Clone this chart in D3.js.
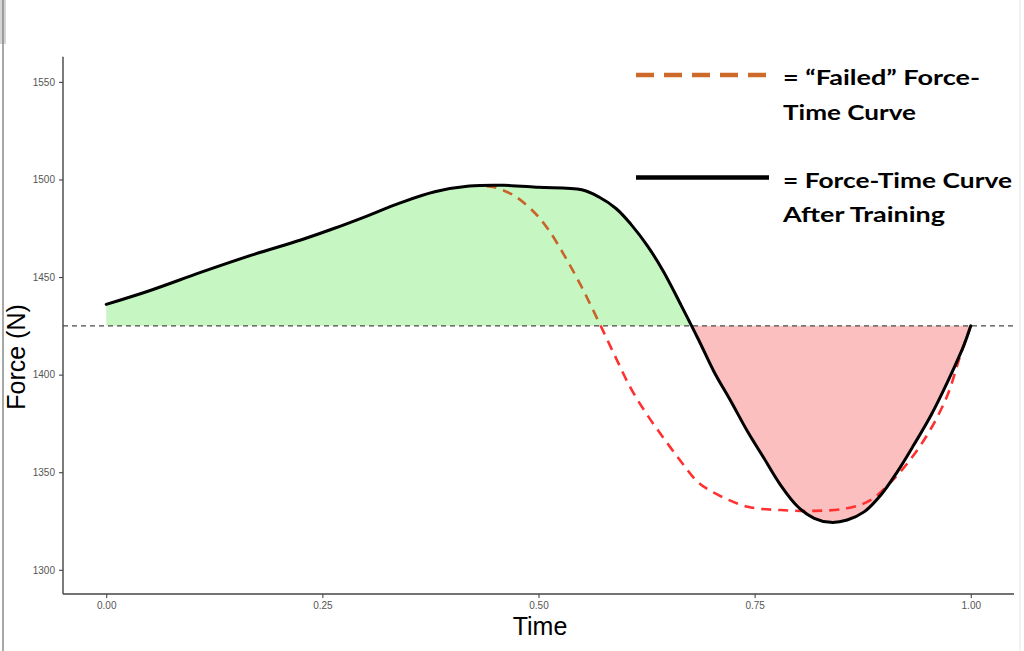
<!DOCTYPE html>
<html>
<head>
<meta charset="utf-8">
<script src="https://cdn.jsdelivr.net/npm/d3@7"></script>
<style>
  html, body { margin: 0; padding: 0; background: #fff; }
  svg { display: block; }
</style>
</head>
<body>
<svg id="chart" width="1024" height="651"></svg>
<script>
// ---------- data ----------
const trainedTime  = [0.00, 0.05, 0.11, 0.17, 0.225, 0.264, 0.30, 0.34, 0.38, 0.42, 0.46, 0.50, 0.55, 0.57, 0.59, 0.607, 0.626, 0.645, 0.665, 0.685, 0.703, 0.723, 0.742, 0.761, 0.78, 0.80, 0.819, 0.838, 0.857, 0.877, 0.896, 0.915, 0.934, 0.954, 0.973, 0.992, 1.00];
const trainedForce = [1436, 1443, 1452.5, 1461.5, 1469, 1475, 1481, 1488, 1493.7, 1496.6, 1497, 1496, 1494.7, 1491, 1485, 1477, 1466, 1452.5, 1435.5, 1418, 1401.5, 1386, 1370.7, 1357, 1343.4, 1332.3, 1326.4, 1324.3, 1325.5, 1329.8, 1338.3, 1350.2, 1363.9, 1379.2, 1396.2, 1415, 1425];

const failedTime  = [0.44, 0.449, 0.472, 0.495, 0.511, 0.530, 0.549, 0.568, 0.588, 0.607, 0.626, 0.645, 0.665, 0.684, 0.705, 0.742, 0.78, 0.819, 0.857, 0.884, 0.915, 0.934, 0.954, 0.973, 0.988, 1.00];
const failedForce = [1496.6, 1496, 1491.7, 1483.2, 1474.6, 1461, 1445.7, 1428.6, 1410, 1392.8, 1379.2, 1367.3, 1355.4, 1345.1, 1339, 1332.3, 1330.6, 1330.2, 1331.5, 1335.7, 1348.5, 1358.8, 1372.4, 1389.4, 1410, 1425];

const baselineForce = 1425;
const xTicks = [0, 0.25, 0.5, 0.75, 1.0];
const yTicks = [1300, 1350, 1400, 1450, 1500, 1550];
const xLabel = "Time";
const yLabel = "Force (N)";
const legendFailed = ["= \u201CFailed\u201D Force-", "Time Curve"];
const legendTrained = ["= Force-Time Curve", "After Training"];

// ---------- setup ----------
const svg = d3.select("#chart");
const x = d3.scaleLinear().domain([-0.05, 1.05]).range([63, 1014]);
const y = d3.scaleLinear().domain([1287.6, 1562.9]).range([594, 56.7]);

const trained = trainedTime.map((t, i) => ({t, f: trainedForce[i]}));
const failed = failedTime.map((t, i) => ({t, f: failedForce[i]}));

// screenshot edge decorations
svg.append("rect").attr("x", 0).attr("y", 0).attr("width", 6).attr("height", 44).attr("fill", "#d4d4d4");
svg.append("line").attr("x1", 3).attr("x2", 3).attr("y1", 0).attr("y2", 651).attr("stroke", "#8a8a8a").attr("stroke-width", 1.5);
svg.append("line").attr("x1", 1020).attr("x2", 1020).attr("y1", 0).attr("y2", 651).attr("stroke", "#e6e6e6").attr("stroke-width", 1);

const defs = svg.append("defs");
const yb = y(baselineForce);
defs.append("clipPath").attr("id", "above")
  .append("rect").attr("x", 0).attr("y", 0).attr("width", 1024).attr("height", yb);
defs.append("clipPath").attr("id", "below")
  .append("rect").attr("x", 0).attr("y", yb).attr("width", 1024).attr("height", 651 - yb);

const curve = d3.curveCatmullRom.alpha(0.5);
const area = d3.area().x(d => x(d.t)).y0(yb).y1(d => y(d.f)).curve(curve);
const line = d3.line().x(d => x(d.t)).y(d => y(d.f)).curve(curve);

// fills
svg.append("path").datum(trained).attr("d", area).attr("fill", "#c6f7c2").attr("clip-path", "url(#above)");
svg.append("path").datum(trained).attr("d", area).attr("fill", "#fbbfbf").attr("clip-path", "url(#below)");

// baseline
svg.append("line").attr("x1", 63).attr("x2", 1014).attr("y1", yb).attr("y2", yb)
  .attr("stroke", "#4a4a4a").attr("stroke-width", 1.2).attr("stroke-dasharray", "5,4");

// failed curve (orange above baseline, red below)
svg.append("path").datum(failed).attr("d", line).attr("fill", "none")
  .attr("stroke", "#c8642a").attr("stroke-width", 2.6).attr("stroke-dasharray", "10,7")
  .attr("clip-path", "url(#above)");
svg.append("path").datum(failed).attr("d", line).attr("fill", "none")
  .attr("stroke", "#ff3030").attr("stroke-width", 2.6).attr("stroke-dasharray", "10,7")
  .attr("clip-path", "url(#below)");

// trained curve
svg.append("path").datum(trained).attr("d", line).attr("fill", "none")
  .attr("stroke", "#000").attr("stroke-width", 3).attr("stroke-linecap", "round");

// axes
const axisColor = "#444";
const gx = svg.append("g").attr("transform", "translate(0,594)")
  .call(d3.axisBottom(x).tickValues(xTicks).tickFormat(d3.format(".2f")).tickSize(4).tickPadding(4));
const gy = svg.append("g").attr("transform", "translate(63,0)")
  .call(d3.axisLeft(y).tickValues(yTicks).tickFormat(d3.format("d")).tickSize(4).tickPadding(4));
[gx, gy].forEach(g => {
  g.select(".domain").attr("stroke", axisColor).attr("stroke-width", 1.4);
  g.selectAll(".tick line").attr("stroke", axisColor).attr("stroke-width", 1.1);
  g.selectAll(".tick text").attr("fill", "#555").attr("font-family", "Liberation Sans, Arial, sans-serif").attr("font-size", "10px");
});
gx.select(".domain").attr("d", "M63,0H1014");
gy.select(".domain").attr("d", "M0,56.7V594");

// axis titles
svg.append("text").attr("x", 540).attr("y", 635).attr("text-anchor", "middle")
  .attr("font-family", "Liberation Sans, Arial, sans-serif").attr("font-size", "25px").attr("fill", "#000")
  .text(xLabel);
svg.append("text").attr("transform", "translate(25,357) rotate(-90)").attr("text-anchor", "middle")
  .attr("font-family", "Liberation Sans, Arial, sans-serif").attr("font-size", "25px").attr("fill", "#000")
  .text(yLabel);

// legend
svg.append("line").attr("x1", 636).attr("x2", 768).attr("y1", 75).attr("y2", 75)
  .attr("stroke", "#cd6a2a").attr("stroke-width", 4.5).attr("stroke-dasharray", "18,10");
svg.append("line").attr("x1", 636).attr("x2", 769).attr("y1", 177.5).attr("y2", 177.5)
  .attr("stroke", "#000").attr("stroke-width", 4.5);

const legendLines = [
  {text: legendFailed[0], y: 85, w: 197},
  {text: legendFailed[1], y: 120, w: 133},
  {text: legendTrained[0], y: 187.5, w: 229},
  {text: legendTrained[1], y: 222, w: 162}
];
svg.selectAll("text.leg").data(legendLines).enter().append("text")
  .attr("class", "leg")
  .attr("x", 783).attr("y", d => d.y)
  .attr("font-family", "Lato, 'Open Sans', sans-serif").attr("font-weight", 700).attr("font-size", "21.5px")
  .attr("fill", "#000")
  .attr("textLength", d => d.w).attr("lengthAdjust", "spacingAndGlyphs")
  .text(d => d.text);
</script>
</body>
</html>
